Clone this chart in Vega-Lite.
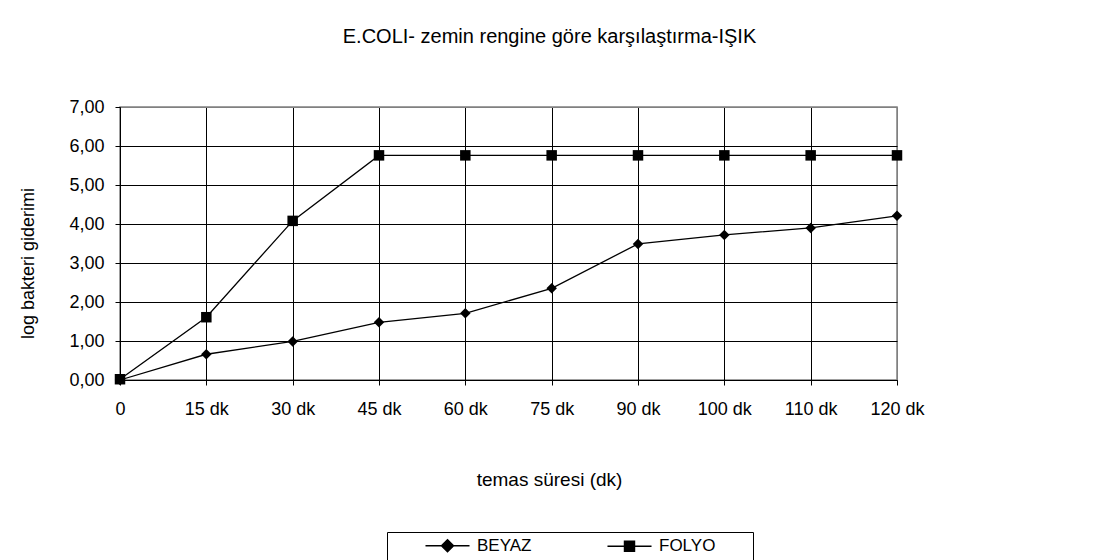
{
  "$schema": "https://vega.github.io/schema/vega-lite/v6.json",
  "width": 777,
  "height": 273,
  "autosize": "none",
  "padding": {"left": 120, "top": 107, "right": 196, "bottom": 180},
  "background": "white",
  "config": {
    "font": "Liberation Sans",
    "view": {"stroke": "#808080", "strokeWidth": 1.5}
  },
  "title": {
    "text": "E.COLI- zemin rengine göre karşılaştırma-IŞIK",
    "fontSize": 20,
    "fontWeight": "normal",
    "color": "black",
    "anchor": "middle",
    "frame": "group",
    "dx": 41,
    "offset": 35,
    "baseline": "alphabetic"
  },
  "data": {
    "values": [
      {"time": "0", "series": "BEYAZ", "value": 0.0},
      {"time": "15 dk", "series": "BEYAZ", "value": 0.66},
      {"time": "30 dk", "series": "BEYAZ", "value": 0.99},
      {"time": "45 dk", "series": "BEYAZ", "value": 1.48},
      {"time": "60 dk", "series": "BEYAZ", "value": 1.71},
      {"time": "75 dk", "series": "BEYAZ", "value": 2.35},
      {"time": "90 dk", "series": "BEYAZ", "value": 3.49},
      {"time": "100 dk", "series": "BEYAZ", "value": 3.72},
      {"time": "110 dk", "series": "BEYAZ", "value": 3.9},
      {"time": "120 dk", "series": "BEYAZ", "value": 4.21},
      {"time": "0", "series": "FOLYO", "value": 0.02},
      {"time": "15 dk", "series": "FOLYO", "value": 1.61},
      {"time": "30 dk", "series": "FOLYO", "value": 4.08},
      {"time": "45 dk", "series": "FOLYO", "value": 5.76},
      {"time": "60 dk", "series": "FOLYO", "value": 5.76},
      {"time": "75 dk", "series": "FOLYO", "value": 5.76},
      {"time": "90 dk", "series": "FOLYO", "value": 5.76},
      {"time": "100 dk", "series": "FOLYO", "value": 5.76},
      {"time": "110 dk", "series": "FOLYO", "value": 5.76},
      {"time": "120 dk", "series": "FOLYO", "value": 5.76}
    ]
  },
  "encoding": {
    "x": {
      "field": "time",
      "type": "ordinal",
      "sort": null,
      "scale": {"type": "point", "padding": 0},
      "axis": {
        "title": "temas süresi (dk)",
        "titleFontSize": 19,
        "titleFontWeight": "normal",
        "titleColor": "black",
        "titleX": 429,
        "titleY": 105,
        "titleBaseline": "alphabetic",
        "labelAngle": 0,
        "labelFontSize": 18,
        "labelColor": "black",
        "labelPadding": 15,
        "labelFlush": false,
        "tickSize": 5,
        "tickColor": "black",
        "domainColor": "black",
        "domainWidth": 1,
        "grid": true,
        "gridColor": {"condition": {"test": "datum.value === '120 dk'", "value": "#808080"}, "value": "black"},
        "gridOpacity": 1,
        "gridWidth": 1
      }
    },
    "y": {
      "field": "value",
      "type": "quantitative",
      "scale": {"domain": [0, 7]},
      "axis": {
        "title": "log bakteri giderimi",
        "titleFontSize": 18,
        "titleFontWeight": "normal",
        "titleColor": "black",
        "titleX": -92,
        "titleY": 156,
        "titleBaseline": "middle",
        "values": [0, 1, 2, 3, 4, 5, 6, 7],
        "labelExpr": "replace(format(datum.value, '.2f'), '.', ',')",
        "labelFontSize": 18,
        "labelColor": "black",
        "labelPadding": 11,
        "tickSize": 5,
        "tickColor": "black",
        "domainColor": "black",
        "domainWidth": 1,
        "grid": true,
        "gridColor": {"condition": {"test": "datum.value === 7", "value": "#808080"}, "value": "black"},
        "gridOpacity": 1,
        "gridWidth": 1
      }
    }
  },
  "layer": [
    {
      "mark": {"type": "line", "color": "black", "strokeWidth": 1.3},
      "encoding": {"detail": {"field": "series", "type": "nominal"}}
    },
    {
      "mark": {"type": "point", "filled": true, "color": "black", "fill": "black", "stroke": "black", "strokeWidth": 1.5, "opacity": 0, "size": 144},
      "encoding": {
        "shape": {
          "field": "series",
          "type": "nominal",
          "scale": {
            "domain": ["BEYAZ", "FOLYO"],
            "range": [
              "M-3.67,0L3.67,0M0,-1L1,0L0,1L-1,0Z",
              "M-3.67,0L3.67,0M-0.83,-0.83L0.83,-0.83L0.83,0.83L-0.83,0.83ZM19.2,0"
            ]
          },
          "legend": {
            "title": null,
            "orient": "none",
            "legendX": 267,
            "legendY": 425,
            "direction": "horizontal",
            "strokeColor": "black",
            "padding": 5,
            "labelFontSize": 17,
            "labelColor": "black",
            "labelFont": "Liberation Sans",
            "symbolSize": 144,
            "symbolOffset": 47,
            "labelOffset": 21,
            "columnPadding": 42,
            "symbolOpacity": 1,
            "symbolStrokeWidth": 1.5
          }
        }
      }
    },
    {
      "mark": {"type": "point", "filled": true, "color": "black", "opacity": 1, "size": 110},
      "encoding": {
        "shape": {
          "field": "series",
          "type": "nominal",
          "scale": {"domain": ["BEYAZ", "FOLYO"], "range": ["diamond", "square"]},
          "legend": null
        }
      }
    }
  ],
  "resolve": {"scale": {"shape": "independent"}, "legend": {"shape": "independent"}}
}
